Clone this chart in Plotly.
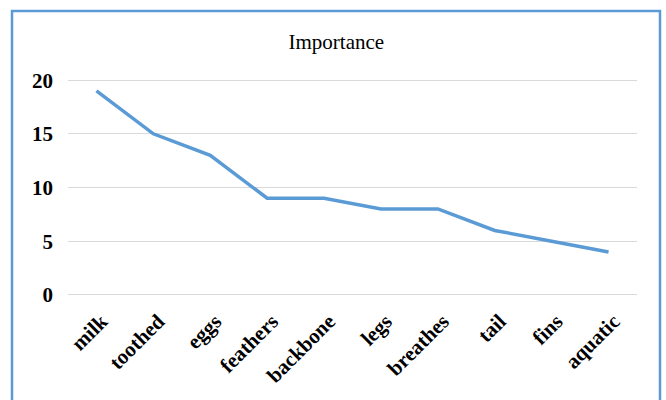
import plotly.graph_objects as go

features = ["milk", "toothed", "eggs", "feathers", "backbone", "legs", "breathes", "tail", "fins", "aquatic"]
importance = [19, 15, 13, 9, 9, 8, 8, 6, 5, 4]
y_ticks = [0, 5, 10, 15, 20]

fig = go.Figure()
fig.add_trace(go.Scatter(
    x=features, y=importance, mode="lines",
    line=dict(color="#5B9BD5", width=3.5),
    showlegend=False,
))

fig.update_layout(
    width=666, height=400,
    margin=dict(l=68, r=29, t=78, b=103, autoexpand=False),
    paper_bgcolor="white", plot_bgcolor="white",
    title=dict(text="Importance", x=0.505, xanchor="center", y=0.895, yanchor="middle",
               font=dict(family="Liberation Serif", size=21, color="#000000")),
    xaxis=dict(type="category", range=[-0.5, 9.5], showgrid=False, showline=False,
               zeroline=False, ticks="", tickangle=-45, ticklabelstandoff=7,
               ticklabelshift=5, automargin=False,
               tickfont=dict(family="Liberation Serif", size=21, color="#000000", weight="bold")),
    yaxis=dict(range=[-0.2, 20.2], tickvals=y_ticks, showgrid=True, gridcolor="#D9D9D9",
               gridwidth=1, zeroline=False, showline=False, ticks="",
               ticklabelstandoff=14, automargin=False,
               tickfont=dict(family="Liberation Serif", size=21, color="#000000", weight="bold")),
    shapes=[dict(type="rect", xref="paper", yref="paper", layer="above",
                 x0=-56/569, x1=(660-68)/569, y0=-0.6, y1=(297-11)/219,
                 line=dict(color="#5B9BD5", width=2.5), fillcolor="rgba(0,0,0,0)")],
)

fig.write_html("out.html")
